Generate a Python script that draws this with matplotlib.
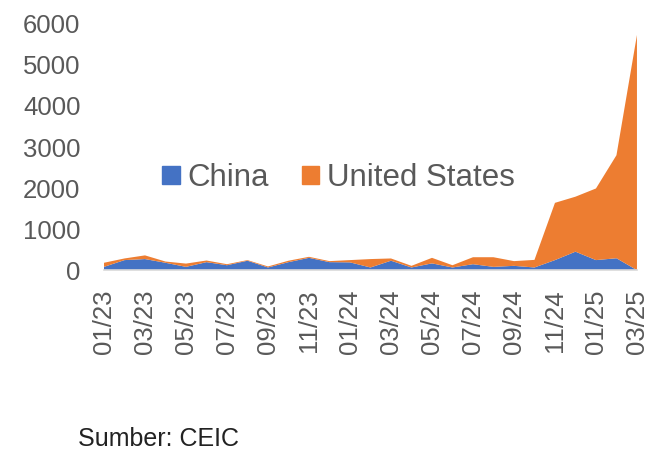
import numpy as np
import matplotlib.pyplot as plt
from matplotlib.patches import Patch

plt.rcParams['font.family'] = ['Liberation Sans', 'DejaVu Sans']

# Monthly data, 01/23 - 03/25
months = ['01/23', '02/23', '03/23', '04/23', '05/23', '06/23', '07/23', '08/23', '09/23',
          '10/23', '11/23', '12/23', '01/24', '02/24', '03/24', '04/24', '05/24', '06/24',
          '07/24', '08/24', '09/24', '10/24', '11/24', '12/24', '01/25', '02/25', '03/25']
china = [80, 245, 270, 180, 80, 195, 120, 230, 65, 195, 300, 195, 190, 65, 230, 65, 165, 65,
         145, 80, 105, 65, 245, 450, 245, 290, 0]
united_states = [100, 40, 90, 30, 80, 40, 25, 15, 25, 35, 25, 25, 55, 205, 55, 40, 135, 55,
                 170, 235, 115, 185, 1395, 1340, 1745, 2510, 5730]

blue = '#4472C4'
orange = '#ED7D31'
gray = '#595959'

fig = plt.figure(figsize=(6.46, 4.51), dpi=100)
ax = fig.add_axes([0.161, 0.401, 0.825, 0.546])

x = np.arange(len(months))
ax.stackplot(x, china, united_states, colors=[blue, orange], linewidth=0)

ax.set_xlim(0, len(months) - 1)
ax.set_ylim(0, 6000)
ax.set_yticks(range(0, 6001, 1000))
ax.set_xticks(x[::2])
ax.set_xticklabels(months[::2], rotation=90)
ax.tick_params(axis='both', length=0, labelsize=18.5, colors=gray)
ax.tick_params(axis='y', pad=17)
ax.tick_params(axis='x', pad=14)

for side in ['top', 'right', 'left']:
    ax.spines[side].set_visible(False)
ax.spines['bottom'].set_color('#D9D9D9')
ax.spines['bottom'].set_linewidth(1.2)

handles = [Patch(color=blue, label='China'), Patch(color=orange, label='United States')]
leg = ax.legend(handles=handles, loc='center', bbox_to_anchor=(0.44, 0.374), ncol=2,
                frameon=False, fontsize=22.5, handlelength=0.55, handleheight=0.55,
                handletextpad=0.25, columnspacing=1.05)
for t in leg.get_texts():
    t.set_color(gray)

fig.text(0.121, 0.012, 'Sumber: CEIC', fontsize=18, color='#222222')

fig.savefig('out.png', dpi=100)
